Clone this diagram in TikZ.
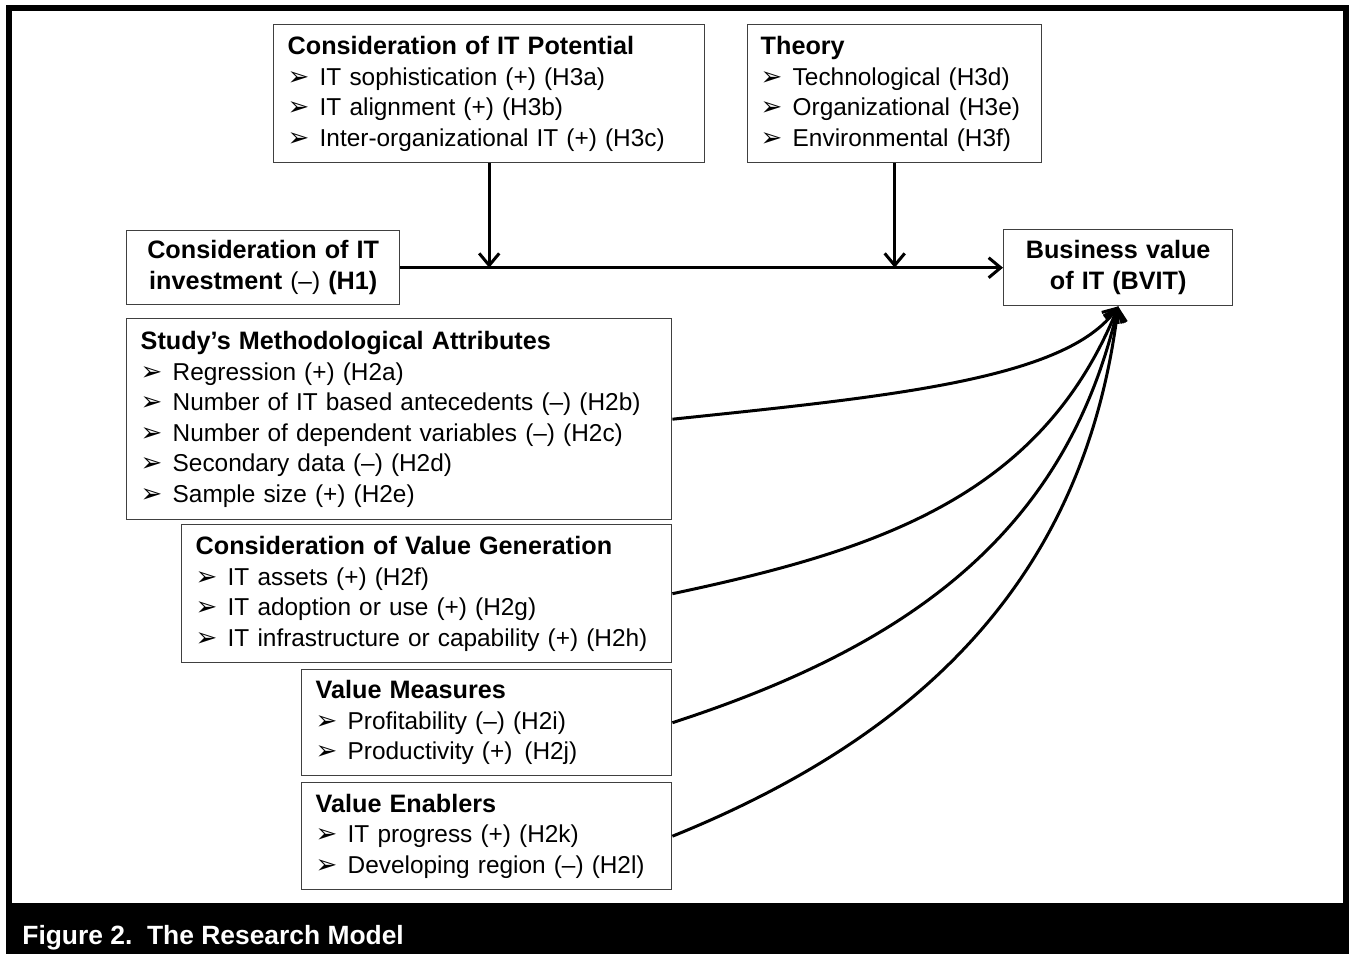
\documentclass[tikz,border=0pt]{standalone}
\usepackage{fontspec}
\setmainfont{Liberation Sans}
\newfontfamily\dingfont{DejaVu Sans}
\usetikzlibrary{arrows.meta}

\newcommand{\itm}[1]{\makebox[16pt][l]{\dingfont\fontsize{13}{13}\selectfont ➢}#1}
\newcommand{\hd}[1]{{\fontsize{12.6}{15.25}\selectfont\bfseries #1}}

\tikzset{
  box/.style={draw=black!75, line width=0.7pt, anchor=north west, inner xsep=7pt,
    inner ysep=0pt, align=left, font=\fontsize{12.2}{15.25}\selectfont},
  arr/.style={line width=1.5pt, -{Straight Barb[length=6pt,width=10pt]}},
}

\begin{document}
\begin{tikzpicture}[x=0.5pt, y=-0.5pt]
    \useasboundingbox (0,0) rectangle (1349,954);
    % frame and caption bar
    \draw[line width=3pt] (9,8) rectangle (1346,906);
    \fill (6,903) rectangle (1349,954);
    \node[anchor=base west, inner sep=0pt, text=white, font=\fontsize{13.2}{14}\selectfont\bfseries]
      (cap) at (22,944) {Figure 2.\ \ The Research Model};

    \node[box, minimum width=215.5pt, text width=201.5pt, minimum height=69pt] (pot) at (273,24)
      {\hd{Consideration of IT Potential}\\
       \itm{IT sophistication (+) (H3a)}\\
       \itm{IT alignment (+) (H3b)}\\
       \itm{Inter-organizational IT (+) (H3c)}};
    \node[box, minimum width=147pt, text width=134pt, inner xsep=6.5pt, minimum height=69pt] (theory) at (747,24)
      {\hd{Theory}\\
       \itm{Technological (H3d)}\\
       \itm{Organizational\hspace{4.5pt}(H3e)}\\
       \itm{Environmental (H3f)}};
    \node[box, align=center, minimum width=136.5pt, text width=122.5pt, minimum height=37pt] (inv) at (126,230)
      {\hd{Consideration of IT}\\
       \hd{investment} (--) \hd{(H1)}};
    \node[box, align=center, minimum width=114.5pt, text width=100.5pt, minimum height=38pt] (bv) at (1003,229)
      {\hd{Business value}\\
       \hd{of IT (BVIT)}};

    \node[box, minimum width=272.5pt, text width=258.5pt, minimum height=100.5pt] (meth) at (126,318)
      {\hd{Study’s Methodological Attributes}\\
       \itm{Regression (+) (H2a)}\\
       \itm{Number of IT based antecedents (--) (H2b)}\\
       \itm{Number of dependent variables (--) (H2c)}\\
       \itm{Secondary data (--) (H2d)}\\
       \itm{Sample size (+) (H2e)}};
    \node[box, minimum width=245pt, text width=231pt, minimum height=69pt] (gen) at (181,524)
      {\hd{Consideration of Value Generation}\\
       \itm{IT assets (+) (H2f)}\\
       \itm{IT adoption or use (+) (H2g)}\\
       \itm{IT infrastructure or capability (+) (H2h)}};
    \node[box, minimum width=185pt, text width=171pt, minimum height=53pt] (meas) at (301,669)
      {\hd{Value Measures}\\
       \itm{Profitability (--) (H2i)}\\
       \itm{Productivity (+)\hspace{6pt}(H2j)}};
    \node[box, minimum width=185pt, text width=171pt, minimum height=53.5pt] (enab) at (301,782)
      {\hd{Value Enablers}\\
       \itm{IT progress (+) (H2k)}\\
       \itm{Developing region (--) (H2l)}};

    % moderators onto the main path
    \coordinate (j1) at (pot.south |- inv.east);
    \coordinate (j2) at (theory.south |- inv.east);
    \draw[arr] (inv.east) -- (bv.west);
    \draw[arr] (pot.south) -- (j1);
    \draw[arr] (theory.south) -- (j2);

    \draw[arr] (meth.east) to[out=6, in=-125, out looseness=1.2, in looseness=0.5] (bv.south);
    \draw[arr] (gen.east) to[out=12, in=-112] (bv.south);
    \draw[arr] (meas.east) to[out=18, in=-103] (bv.south);
    \draw[arr] (enab.east) to[out=22, in=-97] (bv.south);
\end{tikzpicture}
\end{document}
